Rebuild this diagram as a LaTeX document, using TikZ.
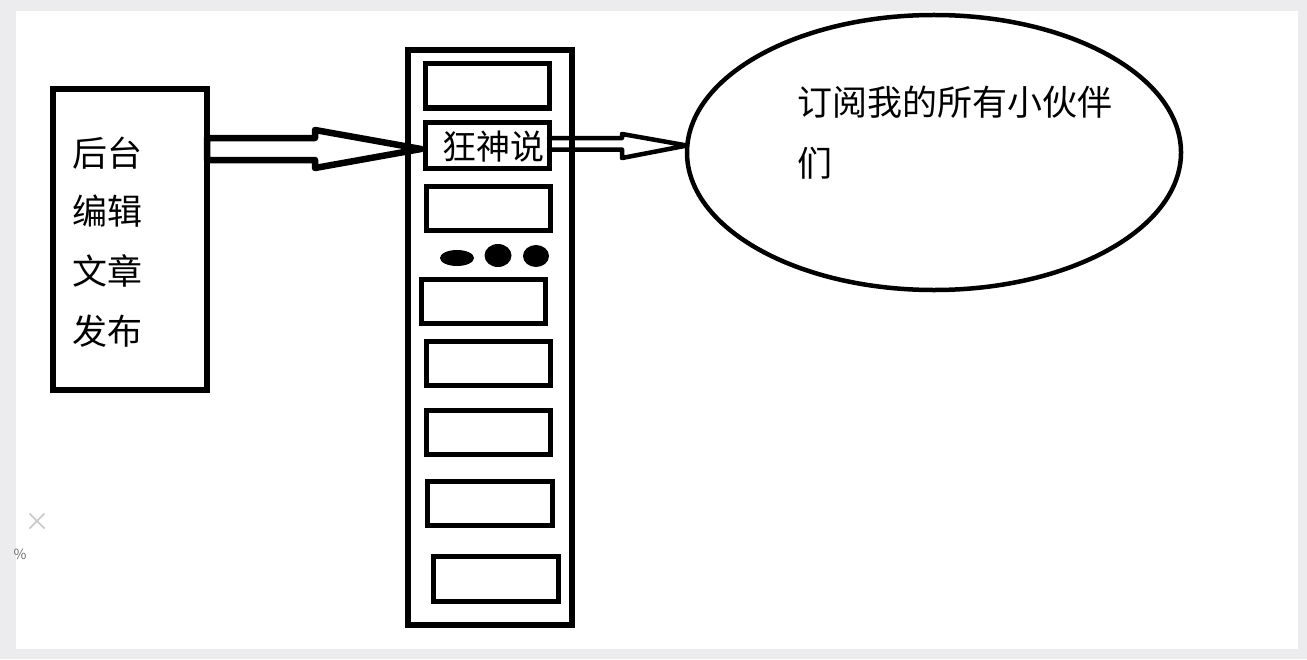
\documentclass[tikz,border=0pt]{standalone}
\usepackage{fontspec}
\newfontfamily\cjk{Noto Sans CJK SC}
\usetikzlibrary{shapes.geometric,calc}
\definecolor{framegray}{RGB}{236,236,238}
\definecolor{markgray}{RGB}{200,200,204}
\definecolor{pctgray}{RGB}{110,110,114}
\begin{document}
\begin{tikzpicture}[x=1bp,y=-1bp,
  box/.style={draw, line width=5bp, rectangle, minimum width=124bp, minimum height=44bp, inner sep=0pt, outer sep=0pt},
  blot/.style={fill=black, ellipse, inner sep=0pt, outer sep=0pt},
  cjktext/.style={font=\cjk\fontsize{35bp}{35bp}\selectfont, inner sep=0pt, anchor=base west},
  blockarrow/.style={draw, line join=round, line cap=round}
]
\fill[framegray] (0,0) rectangle (1307,659);
\fill[white] (16,11) rectangle (1298,649);
\useasboundingbox (0,0) rectangle (1307,659);

% left box
\node[draw, line width=6bp, rectangle, minimum width=154bp, minimum height=301bp, inner sep=0pt, outer sep=0pt] (L) at (130,239.5) {};
\node[cjktext] (t1) at (72,166) {后台};
\node[cjktext] (t2) at (72,224.5) {编辑};
\node[cjktext] (t3) at (72,284) {文章};
\node[cjktext] (t4) at (72,344.5) {发布};

% column
\node[draw, line width=5.5bp, rectangle, minimum width=164bp, minimum height=575bp, inner sep=0pt, outer sep=0pt] (C) at (490,337.5) {};
\node[box] (b1) at (487,86) {};
\node[box, minimum height=45bp] (b2) at (487,145.5) {};
\node[cjktext, font=\cjk\fontsize{34bp}{34bp}\selectfont] (t5) at (442,159.5) {狂神说};
\node[box] (b3) at (488,208) {};
\node[blot, minimum width=34bp, minimum height=16bp] (d1) at (457,258) {};
\node[blot, minimum width=27bp, minimum height=23bp] (d2) at (498,255.5) {};
\node[blot, minimum width=26bp, minimum height=22bp] (d3) at (536,256) {};
\node[box] (b4) at (483,301) {};
\node[box] (b5) at (488,363) {};
\node[box] (b6) at (488,432) {};
\node[box, minimum width=125bp] (b7) at (489.5,503) {};
\node[box, minimum width=125bp, minimum height=45bp] (b8) at (495.5,578.5) {};

% ellipse
\node[draw, ellipse, line width=4.5bp, minimum width=494bp, minimum height=275bp, inner sep=0pt, outer sep=0pt] (E) at (934,152.5) {};
\node[cjktext] (t6) at (797,116) {订阅我的所有小伙伴};
\node[cjktext] (t7) at (797,176) {们};

% arrow 1: left box -> 狂神说
\coordinate (T1) at ($(b2.west)+(-4,3.5)$);
\coordinate (S1) at (L.east |- T1);
\draw[blockarrow, line width=6.5bp]
  ($(S1)+(0,-11)$) -- ($(T1)+(-106,-11)$) -- ($(T1)+(-106,-19)$) -- (T1)
  -- ($(T1)+(-106,19)$) -- ($(T1)+(-106,11)$) -- ($(S1)+(0,11)$) -- cycle;

% arrow 2: 狂神说 -> ellipse
\coordinate (T2) at (E.west |- b2.east);
\coordinate (S2) at (b2.east);
\draw[blockarrow, line width=4.5bp]
  ($(S2)+(0,-7.5)$) -- ($(T2)+(-65,-7.5)$) -- ($(T2)+(-65,-11.5)$) -- (T2)
  -- ($(T2)+(-65,12.5)$) -- ($(T2)+(-65,4)$) -- ($(S2)+(0,4)$);

% screen marks
\coordinate (xm) at (37,521);
\draw[markgray, line width=1.5bp] ($(xm)+(-7.5,-7.5)$) -- ($(xm)+(7.5,7.5)$)
  ($(xm)+(-7.5,7.5)$) -- ($(xm)+(7.5,-7.5)$);
\node[pctgray, font=\cjk\fontsize{14bp}{14bp}\selectfont, inner sep=0pt] (pct) at (20,554) {\%};
\end{tikzpicture}
\end{document}
